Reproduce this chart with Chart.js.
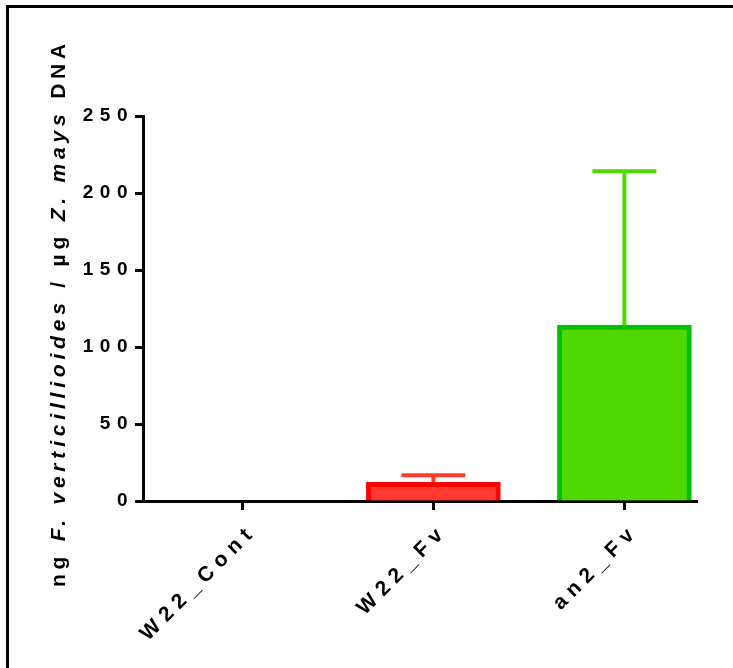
<!DOCTYPE html>
<html>
<head>
<meta charset="utf-8">
<script src="https://cdn.jsdelivr.net/npm/chart.js@4/dist/chart.umd.min.js"></script>
<style>
  html, body { margin: 0; padding: 0; background: #fff; }
  #wrap { position: relative; width: 733px; height: 668px; }
  #frame { position: absolute; left: 6px; top: 5px; right: 0; bottom: 0;
           border-left: 3px solid #000; border-top: 3px solid #000; pointer-events: none; }
</style>
</head>
<body>
<div id="wrap">
  <canvas id="fvChart" width="733" height="668"></canvas>
  <div id="frame"></div>
</div>
<script>
// data
const categories = ['W22_Cont', 'W22_Fv', 'an2_Fv'];
const means = [0, 12.2, 114.2];
const errors = [0, 4.5, 100];
const yTicks = [0, 50, 100, 150, 200, 250];

const fillColors = ['#888888', '#FF3B30', '#50D800'];
const edgeColors = ['#555555', '#FF0000', '#00C000'];

document.addEventListener('DOMContentLoaded', function() {
  const ctx = document.getElementById('fvChart').getContext('2d');
  const FONT = "'Liberation Sans', Arial, sans-serif";

  // canvas letter spacing for the widely spaced Prism text
  const spacing = {
    id: 'spacing',
    beforeUpdate(chart) { chart.ctx.letterSpacing = '6.5px'; },
    beforeDraw(chart) { chart.ctx.letterSpacing = '6.5px'; }
  };

  // error bars (upper only), drawn from the scales
  const errorBars = {
    id: 'errorBars',
    afterDatasetsDraw(chart) {
      const c = chart.ctx;
      const xs = chart.scales.x, ys = chart.scales.y;
      c.save();
      c.lineWidth = 4;
      means.forEach(function(m, i) {
        if (!errors[i]) return;
        const x = xs.getPixelForValue(i);
        const y0 = ys.getPixelForValue(m);
        const y1 = ys.getPixelForValue(m + errors[i]);
        c.strokeStyle = fillColors[i];
        c.beginPath();
        c.moveTo(x, y0);
        c.lineTo(x, y1);
        c.moveTo(x - 32, y1);
        c.lineTo(x + 32, y1);
        c.stroke();
      });
      c.restore();
    }
  };

  // category tick marks under the x axis
  const xTickMarks = {
    id: 'xTickMarks',
    afterDraw(chart) {
      const c = chart.ctx;
      const xs = chart.scales.x;
      const base = chart.chartArea.bottom;
      c.save();
      c.fillStyle = '#000';
      categories.forEach(function(cat, i) {
        const x = Math.round(xs.getPixelForValue(i));
        c.fillRect(x - 1, base, 3, 9);
      });
      c.restore();
    }
  };

  // y title with italic species names
  const yTitle = {
    id: 'yTitle',
    afterDraw(chart) {
      const parts = [
        ['ng ', false], ['F. verticillioides', true], [' / \u00b5g ', false],
        ['Z. mays', true], [' DNA', false]
      ];
      const c = chart.ctx;
      c.save();
      c.letterSpacing = '4.8px';
      c.fillStyle = '#000';
      c.textBaseline = 'middle';
      c.textAlign = 'left';
      let total = 0;
      parts.forEach(function(p) {
        c.font = (p[1] ? 'italic ' : '') + 'bold 21px ' + FONT;
        total += c.measureText(p[0]).width;
      });
      c.translate(59, 313);
      c.rotate(-Math.PI / 2);
      let x = -total / 2;
      parts.forEach(function(p) {
        c.font = (p[1] ? 'italic ' : '') + 'bold 21px ' + FONT;
        c.fillText(p[0], x, 0);
        x += c.measureText(p[0]).width;
      });
      c.restore();
    }
  };

  const data = {
    datasets: [{
      data: categories.map(function(c, i) { return { x: i, y: means[i] }; }),
      backgroundColor: fillColors,
      borderColor: edgeColors,
      borderWidth: 5,
      barThickness: 134
    }]
  };

  const config = {
    type: 'bar',
    data: data,
    options: {
      responsive: false,
      animation: false,
      layout: { padding: { left: 80, top: 116, right: 36, bottom: 0 } },
      scales: {
        x: {
          type: 'linear',
          min: -0.52,
          max: 2.38,
          offset: false,
          border: { display: true, color: '#000', width: 3 },
          grid: { display: false },
          ticks: {
            stepSize: 1,
            includeBounds: false,
            autoSkip: false,
            maxRotation: 45,
            minRotation: 45,
            padding: 10,
            labelOffset: 11,
            color: '#000',
            font: { family: FONT, size: 21, weight: 'bold' },
            callback: function(v) { return categories[v] !== undefined ? categories[v] : ''; }
          },
          afterBuildTicks: function(s) {
            s.ticks = categories.map(function(c, i) { return { value: i }; });
          },
          afterFit: function(s) {
            s.height = 167;
            s.paddingLeft = 0;
            s.paddingRight = 0;
          }
        },
        y: {
          min: 0,
          max: 250,
          border: { display: true, color: '#000', width: 3 },
          grid: { display: true, drawOnChartArea: false, color: '#000', tickLength: 8, tickWidth: 3 },
          ticks: {
            stepSize: 50,
            padding: 1,
            color: '#000',
            font: { family: FONT, size: 19, weight: 'bold' }
          },
          afterBuildTicks: function(s) {
            s.ticks = yTicks.map(function(v) { return { value: v }; });
          },
          afterFit: function(s) {
            s.width = 63;
            s.paddingTop = 0;
            s.paddingBottom = 0;
          }
        }
      },
      plugins: {
        legend: { display: false },
        tooltip: { enabled: false }
      }
    },
    plugins: [spacing, errorBars, xTickMarks, yTitle]
  };

  new Chart(ctx, config);
});
</script>
</body>
</html>
